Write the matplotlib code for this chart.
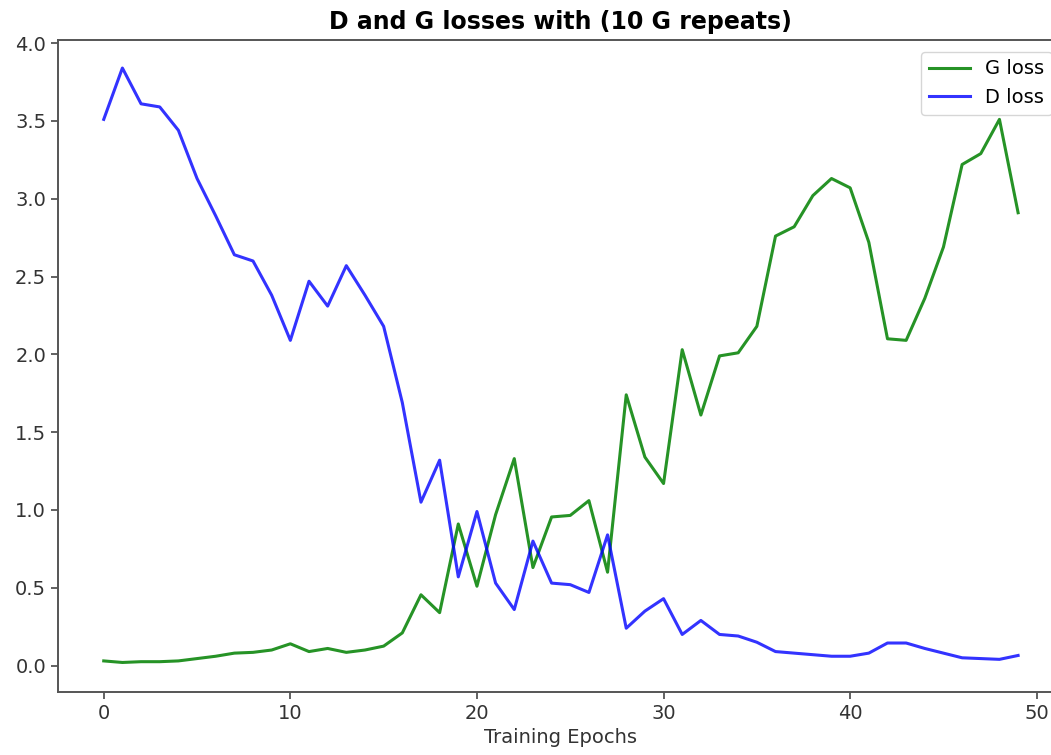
import matplotlib
matplotlib.use("Agg")
import matplotlib.pyplot as plt

epochs = list(range(50))
g_loss = [0.03, 0.02, 0.025, 0.025, 0.03, 0.045, 0.06, 0.08, 0.085, 0.10,
          0.14, 0.09, 0.11, 0.085, 0.10, 0.125, 0.21, 0.455, 0.34, 0.91,
          0.51, 0.97, 1.33, 0.63, 0.955, 0.965, 1.06, 0.60, 1.74, 1.34,
          1.17, 2.03, 1.61, 1.99, 2.01, 2.18, 2.76, 2.82, 3.02, 3.13,
          3.07, 2.72, 2.10, 2.09, 2.36, 2.69, 3.22, 3.29, 3.51, 2.91]
d_loss = [3.51, 3.84, 3.61, 3.59, 3.44, 3.13, 2.89, 2.64, 2.60, 2.38,
          2.09, 2.47, 2.31, 2.57, 2.38, 2.18, 1.69, 1.05, 1.32, 0.57,
          0.99, 0.53, 0.36, 0.80, 0.53, 0.52, 0.47, 0.84, 0.24, 0.35,
          0.43, 0.20, 0.29, 0.20, 0.19, 0.15, 0.09, 0.08, 0.07, 0.06,
          0.06, 0.08, 0.145, 0.145, 0.11, 0.08, 0.05, 0.045, 0.04, 0.065]

fig = plt.figure(figsize=(10.51, 7.55), dpi=100)
# axes extends slightly past the right edge (reference is cropped there)
ax = fig.add_axes([0.0552, 0.0834, 0.957, 0.8636])
ax.plot(epochs, g_loss, color="green", alpha=0.85, linewidth=2.2, label="G loss")
ax.plot(epochs, d_loss, color="blue", alpha=0.8, linewidth=2.2, label="D loss")
ax.set_xlim(-2.45, 51.45)
ax.set_ylim(-0.17, 4.02)
ax.set_title("D and G losses with (10 G repeats)", fontsize=17, fontweight="bold", pad=8)
ax.set_xlabel("Training Epochs", fontsize=14, color="#333333", labelpad=4)
ax.tick_params(labelsize=14, labelcolor="#333333", width=1.3, length=5, color="#555555")
for s in ax.spines.values():
    s.set_color("#555555")
    s.set_linewidth(1.4)
ax.legend(loc="upper right", fontsize=14, handlelength=2.1, borderaxespad=0.6)
fig.savefig("out.png", dpi=100)
